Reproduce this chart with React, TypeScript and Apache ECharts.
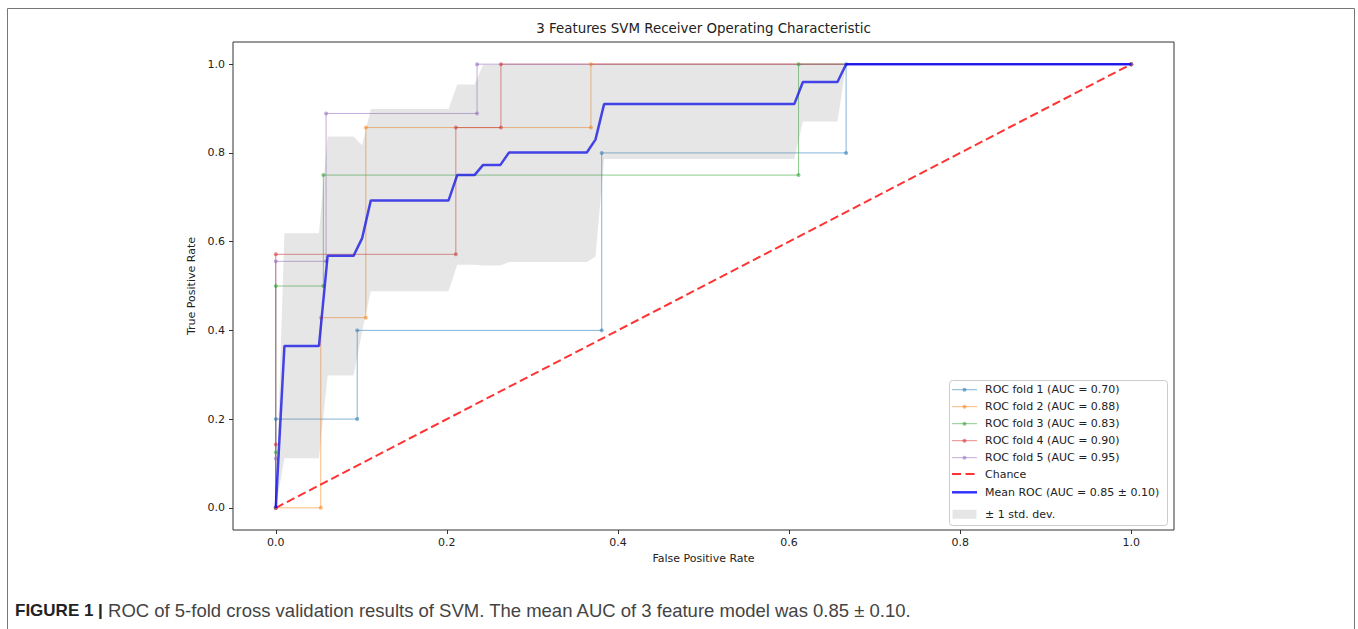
import React, { useEffect, useRef } from "react";
import * as echarts from "echarts";

// ---- data ----
const fold1Fpr = [0, 0, 0.0952, 0.0952, 0.381, 0.381, 0.6667, 0.6667, 1.0];
const fold1Tpr = [0, 0.2, 0.2, 0.4, 0.4, 0.8, 0.8, 1.0, 1.0];
const fold2Fpr = [0, 0.0526, 0.0526, 0.1053, 0.1053, 0.3684, 0.3684, 1.0];
const fold2Tpr = [0, 0, 0.4286, 0.4286, 0.8571, 0.8571, 1.0, 1.0];
const fold3Fpr = [0, 0, 0, 0.0556, 0.0556, 0.6111, 0.6111, 1.0];
const fold3Tpr = [0, 0.125, 0.5, 0.5, 0.75, 0.75, 1.0, 1.0];
const fold4Fpr = [0, 0, 0, 0.2105, 0.2105, 0.2632, 0.2632, 1.0];
const fold4Tpr = [0, 0.1429, 0.5714, 0.5714, 0.8571, 0.8571, 1.0, 1.0];
const fold5Fpr = [0, 0, 0, 0.0588, 0.0588, 0.2353, 0.2353, 1.0];
const fold5Tpr = [0, 0.1111, 0.5556, 0.5556, 0.8889, 0.8889, 1.0, 1.0];

const foldNames = [
  "ROC fold 1 (AUC = 0.70)",
  "ROC fold 2 (AUC = 0.88)",
  "ROC fold 3 (AUC = 0.83)",
  "ROC fold 4 (AUC = 0.90)",
  "ROC fold 5 (AUC = 0.95)",
];
const foldColors = ["#1f77b4", "#ff7f0e", "#2ca02c", "#d62728", "#9467bd"];

const chanceFpr = [0, 1];
const chanceTpr = [0, 1];

const meanFpr = [0, 0.0101, 0.0505, 0.0606, 0.0909, 0.101, 0.1111, 0.202, 0.2121, 0.2323, 0.2424,
  0.2626, 0.2727, 0.3636, 0.3737, 0.3838, 0.6061, 0.6162, 0.6566, 0.6667, 1.0];
const meanTpr = [0, 0.365, 0.365, 0.568, 0.568, 0.608, 0.693, 0.693, 0.75, 0.75, 0.773,
  0.773, 0.801, 0.801, 0.83, 0.91, 0.91, 0.96, 0.96, 1.0, 1.0];
const bandUpper = [0, 0.619, 0.619, 0.837, 0.837, 0.817, 0.899, 0.899, 0.954, 0.954, 0.999,
  0.999, 1, 1, 1, 1, 1, 1, 1, 1, 1];
const bandLower = [0, 0.112, 0.112, 0.298, 0.298, 0.398, 0.488, 0.488, 0.548, 0.548, 0.546,
  0.546, 0.554, 0.554, 0.566, 0.786, 0.786, 0.871, 0.871, 1, 1];

const xTicks = [0, 0.2, 0.4, 0.6, 0.8, 1.0];
const yTicks = [0, 0.2, 0.4, 0.6, 0.8, 1.0];

const chanceName = "Chance";
const meanName = "Mean ROC (AUC = 0.85 \u00b1 0.10)";
const stdName = "\u00b1 1 std. dev.";
const titleText = "3 Features SVM Receiver Operating Characteristic";
const xName = "False Positive Rate";
const yName = "True Positive Rate";
const captionBold = "FIGURE 1 |";
const captionRest = " ROC of 5-fold cross validation results of SVM. The mean AUC of 3 feature model was 0.85 \u00b1 0.10.";

const FONT = "DejaVu Sans";

function zip(a: number[], b: number[]) {
  return a.map((v, i) => [v, b[i]]);
}

export default function App() {
  const ref = useRef<HTMLDivElement>(null);

  useEffect(() => {
    document.body.style.margin = "0";
    const chart = echarts.init(ref.current!, undefined, { renderer: "svg" });

    const foldFprs = [fold1Fpr, fold2Fpr, fold3Fpr, fold4Fpr, fold5Fpr];
    const foldTprs = [fold1Tpr, fold2Tpr, fold3Tpr, fold4Tpr, fold5Tpr];

    const foldSeries = foldNames.map((name, i) => ({
      name,
      type: "line",
      data: zip(foldFprs[i], foldTprs[i]),
      symbol: "circle",
      symbolSize: 4,
      showSymbol: true,
      lineStyle: { color: foldColors[i], width: 1, opacity: 0.55 },
      itemStyle: { color: foldColors[i], opacity: 0.55 },
      silent: true,
      z: 2,
    }));

    // band data: one row per sample point (x, lower, upper)
    const bandData = meanFpr.map((x, i) => [x, bandLower[i], bandUpper[i]]);

    // legend (drawn like matplotlib's)
    const lgX = 949;
    const lgTop = 380;
    const lgRight = 1167;
    const lgBottom = 525;
    const rowY = [389.7, 406.7, 423.7, 440.7, 457.7, 474, 492.3, 514.3];
    const hx1 = 952;
    const hx2 = 977;
    const tx = 985;
    const legendEls: any[] = [
      {
        type: "rect",
        shape: { x: lgX + 0.5, y: lgTop + 0.5, width: lgRight - lgX, height: lgBottom - lgTop, r: 3 },
        style: { fill: "rgba(255,255,255,0.8)", stroke: "#cccccc", lineWidth: 1 },
        z: 100,
      },
    ];
    const labels = [...foldNames, chanceName, meanName, stdName];
    labels.forEach((lab, i) => {
      legendEls.push({
        type: "text",
        style: {
          text: lab,
          x: tx,
          y: rowY[i],
          fill: "#222",
          font: `11px "${FONT}"`,
          textAlign: "left",
          textVerticalAlign: "middle",
        },
        z: 101,
      });
    });
    foldColors.forEach((c, i) => {
      legendEls.push({
        type: "line",
        shape: { x1: hx1, y1: rowY[i], x2: hx2, y2: rowY[i] },
        style: { stroke: c, lineWidth: 1, opacity: 0.55 },
        z: 101,
      });
      legendEls.push({
        type: "circle",
        shape: { cx: (hx1 + hx2) / 2, cy: rowY[i], r: 2 },
        style: { fill: c, opacity: 0.55 },
        z: 101,
      });
    });
    legendEls.push({
      type: "line",
      shape: { x1: hx1, y1: rowY[5], x2: hx2, y2: rowY[5] },
      style: { stroke: "#ff0000", lineWidth: 2, opacity: 0.8, lineDash: [9, 4.5] },
      z: 101,
    });
    legendEls.push({
      type: "line",
      shape: { x1: hx1, y1: rowY[6], x2: hx2, y2: rowY[6] },
      style: { stroke: "#0000ff", lineWidth: 2.5, opacity: 0.8 },
      z: 101,
    });
    legendEls.push({
      type: "rect",
      shape: { x: hx1 + 0.5, y: rowY[7] - 4.5, width: 24, height: 9 },
      style: { fill: "#808080", opacity: 0.2 },
      z: 101,
    });

    const option: any = {
      animation: false,
      backgroundColor: "#ffffff",
      title: {
        text: titleText,
        left: 703.5,
        top: 22,
        textAlign: "center",
        padding: 0,
        textStyle: { fontFamily: FONT, fontSize: 13.4, fontWeight: "normal", color: "#222" },
      },
      grid: {
        left: 233,
        right: 184,
        top: 42,
        bottom: 99,
        show: true,
        borderColor: "#333",
        borderWidth: 1,
        backgroundColor: "transparent",
      },
      xAxis: {
        type: "value",
        min: -0.05,
        max: 1.05,
        name: xName,
        nameLocation: "middle",
        nameGap: 22,
        nameTextStyle: { fontFamily: FONT, fontSize: 11, color: "#222" },
        axisLine: { show: false, onZero: false },
        axisTick: { show: true, length: 4, customValues: xTicks, lineStyle: { color: "#333" } },
        axisLabel: {
          show: true,
          customValues: xTicks,
          margin: 7,
          fontFamily: FONT,
          fontSize: 11,
          color: "#222",
          formatter: (v: number) => v.toFixed(1),
        },
        splitLine: { show: false },
      },
      yAxis: {
        type: "value",
        min: -0.05,
        max: 1.05,
        name: yName,
        nameLocation: "middle",
        nameGap: 33,
        nameTextStyle: { fontFamily: FONT, fontSize: 11, color: "#222" },
        axisLine: { show: false, onZero: false },
        axisTick: { show: true, length: 4, customValues: yTicks, lineStyle: { color: "#333" } },
        axisLabel: {
          show: true,
          customValues: yTicks,
          margin: 8,
          fontFamily: FONT,
          fontSize: 11,
          color: "#222",
          formatter: (v: number) => v.toFixed(1),
        },
        splitLine: { show: false },
      },
      series: [
        ...foldSeries,
        {
          name: chanceName,
          type: "line",
          data: zip(chanceFpr, chanceTpr),
          symbol: "none",
          lineStyle: { color: "#ff0000", width: 2, opacity: 0.8, type: [8.5, 4] },
          silent: true,
          z: 3,
        },
        {
          name: meanName,
          type: "line",
          data: zip(meanFpr, meanTpr),
          symbol: "none",
          lineStyle: { color: "#0000ff", width: 2.5, opacity: 0.8 },
          silent: true,
          z: 4,
        },
        {
          name: stdName,
          type: "custom",
          data: bandData,
          encode: { x: 0, y: [1, 2] },
          silent: true,
          z: 5,
          renderItem: (params: any, api: any) => {
            if (params.dataIndex !== 0) return null;
            const upperPts = bandData.map((r) => api.coord([r[0], r[2]]));
            const lowerPts = bandData.map((r) => api.coord([r[0], r[1]])).reverse();
            return {
              type: "polygon",
              shape: { points: [...upperPts, ...lowerPts] },
              style: { fill: "#808080", opacity: 0.2 },
            };
          },
        },
      ],
      graphic: [
        {
          type: "rect",
          shape: { x: 7.5, y: 8.5, width: 1347, height: 700 },
          style: { fill: "none", stroke: "#777", lineWidth: 1 },
          silent: true,
        },
        ...legendEls,
        {
          type: "text",
          style: {
            text: `{b|${captionBold}}{r|${captionRest}}`,
            x: 15,
            y: 610,
            textVerticalAlign: "middle",
            rich: {
              b: { fontFamily: "Liberation Sans", fontSize: 17, fontWeight: "bold", fill: "#222", color: "#222" },
              r: { fontFamily: "Liberation Sans", fontSize: 18.5, fill: "#444", color: "#444" },
            },
          },
        },
      ],
    };

    chart.setOption(option);
    return () => chart.dispose();
  }, []);

  return (
    <div
      ref={ref}
      style={{ position: "absolute", left: 0, top: 0, width: 1358, height: 629 }}
    />
  );
}
